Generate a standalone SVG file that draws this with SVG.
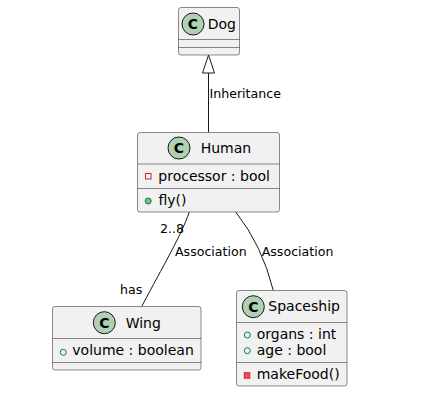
<svg xmlns="http://www.w3.org/2000/svg" width="426" height="403" viewBox="0 0 426 403">
<style>
.box{fill:#F1F1F1;stroke:#181818;stroke-width:0.5}
.sep{stroke:#181818;stroke-width:0.5}
.circ{fill:#ADD1B2;stroke:#181818;stroke-width:1}
.cl{font-family:"DejaVu Sans",sans-serif;font-size:14px;font-weight:bold;fill:#000;text-anchor:middle}
.t{font-family:"DejaVu Sans",sans-serif;font-size:14px;fill:#000}
.lbl{font-family:"DejaVu Sans",sans-serif;font-size:12.6px;fill:#000}
.edge{fill:none;stroke:#181818;stroke-width:1}
.privf{fill:none;stroke:#C82930;stroke-width:1}
.privm{fill:#F24D5C;stroke:#C82930;stroke-width:1}
.pubf{fill:none;stroke:#038048;stroke-width:1}
.pubm{fill:#84BE84;stroke:#038048;stroke-width:1}
</style>
<rect width="426" height="403" fill="#FFFFFF"/>
<g id="connectors">
<polygon class="edge" points="208.5,55 202.5,73 214.5,73"/>
<line class="edge" x1="208.5" y1="73" x2="208.5" y2="132.5"/>
<text class="lbl" x="209.5" y="98">Inheritance</text>
<path class="edge" d="M189.3,212 C181,236 163,266 141.7,306.5"/>
<text class="lbl" x="160" y="233.3">2..8</text>
<text class="lbl" x="175" y="256">Association</text>
<text class="lbl" x="120" y="294.3">has</text>
<path class="edge" d="M235.7,212 Q262,245 273.3,290.5"/>
<text class="lbl" x="261.7" y="256">Association</text>
</g>
<g id="Dog">
<rect class="box" x="178.5" y="7.5" width="61" height="47.5" rx="2.5"/>
<line class="sep" x1="178.5" y1="39.5" x2="239.5" y2="39.5"/>
<line class="sep" x1="178.5" y1="47.5" x2="239.5" y2="47.5"/>
<circle class="circ" cx="193" cy="24" r="11"/>
<text class="cl" x="193" y="29">C</text>
<text class="t" x="207.7" y="28.5">Dog</text>
</g>
<g id="Human">
<rect class="box" x="137.5" y="132.5" width="142" height="79.5" rx="2.5"/>
<line class="sep" x1="137.5" y1="164" x2="279.5" y2="164"/>
<line class="sep" x1="137.5" y1="188.5" x2="279.5" y2="188.5"/>
<circle class="circ" cx="179" cy="148" r="11"/>
<text class="cl" x="179" y="153">C</text>
<text class="t" x="200.7" y="153.3">Human</text>
<rect class="privf" x="145.5" y="173.5" width="5.5" height="5.5"/>
<text class="t" x="158.3" y="181">processor : bool</text>
<circle class="pubm" cx="148.2" cy="201" r="3"/>
<text class="t" x="158.5" y="205">fly()</text>
</g>
<g id="Wing">
<rect class="box" x="52.5" y="306.5" width="148.5" height="63.5" rx="2.5"/>
<line class="sep" x1="52.5" y1="338.5" x2="201" y2="338.5"/>
<line class="sep" x1="52.5" y1="362.5" x2="201" y2="362.5"/>
<circle class="circ" cx="104.3" cy="322.7" r="11"/>
<text class="cl" x="104.3" y="327.7">C</text>
<text class="t" x="125.7" y="327.5">Wing</text>
<circle class="pubf" cx="63.3" cy="352.3" r="3"/>
<text class="t" x="72.3" y="355">volume : boolean</text>
</g>
<g id="Spaceship">
<rect class="box" x="236.5" y="290.5" width="110.5" height="95.5" rx="2.5"/>
<line class="sep" x1="236.5" y1="322.5" x2="347" y2="322.5"/>
<line class="sep" x1="236.5" y1="362.5" x2="347" y2="362.5"/>
<circle class="circ" cx="253.3" cy="306.7" r="11"/>
<text class="cl" x="253.3" y="311.7">C</text>
<text class="t" x="268.3" y="311">Spaceship</text>
<circle class="pubf" cx="247.3" cy="335" r="3"/>
<text class="t" x="256.7" y="339.3">organs : int</text>
<circle class="pubf" cx="247.3" cy="350.7" r="3"/>
<text class="t" x="256.7" y="355">age : bool</text>
<rect class="privm" x="244.3" y="372.7" width="5.5" height="5.5"/>
<text class="t" x="256.7" y="379.3">makeFood()</text>
</g>
</svg>
